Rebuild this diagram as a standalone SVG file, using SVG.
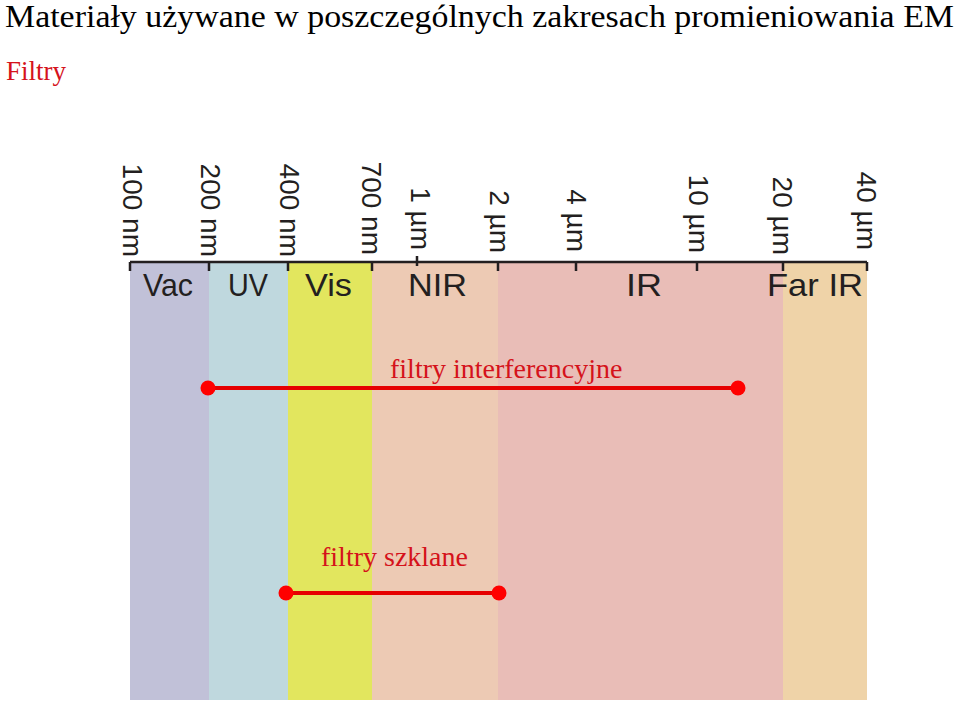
<svg xmlns="http://www.w3.org/2000/svg" width="960" height="703" viewBox="0 0 960 703">
<style>
.title{font-family:"Liberation Serif","Times New Roman",serif;font-size:31px;fill:#000}
.red{font-family:"Liberation Serif","Times New Roman",serif;fill:#d5121b}
.scale{font-family:"Liberation Sans",Arial,sans-serif;font-size:28px;fill:#231f20}
.band{font-family:"Liberation Sans",Arial,sans-serif;font-size:32px;fill:#231f20}
.tick{stroke:#231f20;stroke-width:2.5;fill:none}
.rng{stroke:#e60000;stroke-width:4}
.dot{fill:#ff0000}
</style>
<rect width="960" height="703" fill="#fff"/>
<text class="title" x="5" y="27" textLength="949" lengthAdjust="spacingAndGlyphs">Materiały używane w poszczególnych zakresach promieniowania EM</text>
<text class="red" x="6" y="80" font-size="27">Filtry</text>

<g id="bands">
<g id="band-vac"><rect x="130" y="262" width="79" height="438" fill="#c1c1d8"/><text class="band" x="143" y="296" textLength="50" lengthAdjust="spacingAndGlyphs">Vac</text></g>
<g id="band-uv"><rect x="209" y="262" width="79" height="438" fill="#bfd8de"/><text class="band" x="228" y="296" textLength="40" lengthAdjust="spacingAndGlyphs">UV</text></g>
<g id="band-vis"><rect x="288" y="262" width="84" height="438" fill="#e2e65e"/><text class="band" x="305" y="296" textLength="47" lengthAdjust="spacingAndGlyphs">Vis</text></g>
<g id="band-nir"><rect x="372" y="262" width="126" height="438" fill="#edcab4"/><text class="band" x="408" y="296" textLength="59" lengthAdjust="spacingAndGlyphs">NIR</text></g>
<g id="band-ir"><rect x="498" y="262" width="285" height="438" fill="#e9bdb7"/><text class="band" x="626" y="296" textLength="36" lengthAdjust="spacingAndGlyphs">IR</text></g>
<g id="band-farir"><rect x="783" y="262" width="84" height="438" fill="#efd3a8"/><text class="band" x="767" y="296" textLength="96" lengthAdjust="spacingAndGlyphs">Far IR</text></g>
</g>

<g id="axis">
<path class="tick" d="M130 262H867 M130 262V271 M209 262V271 M288 262V271 M372 262V271 M417 256V266 M498 262V271 M576 262V271 M697 262V271 M783 262V271 M867 262V271"/>
<text class="scale" transform="translate(123,257) rotate(90)" text-anchor="end">100 nm</text>
<text class="scale" transform="translate(201,257) rotate(90)" text-anchor="end">200 nm</text>
<text class="scale" transform="translate(280,257) rotate(90)" text-anchor="end">400 nm</text>
<text class="scale" transform="translate(362,255) rotate(90)" text-anchor="end">700 nm</text>
<text class="scale" transform="translate(411,250) rotate(90)" text-anchor="end">1 µm</text>
<text class="scale" transform="translate(490,253) rotate(90)" text-anchor="end">2 µm</text>
<text class="scale" transform="translate(567,252) rotate(90)" text-anchor="end">4 µm</text>
<text class="scale" transform="translate(689,253) rotate(90)" text-anchor="end">10 µm</text>
<text class="scale" transform="translate(773,255) rotate(90)" text-anchor="end">20 µm</text>
<text class="scale" transform="translate(857,250) rotate(90)" text-anchor="end">40 µm</text>
</g>

<g id="connectors">
<g id="filtry-interferencyjne">
<line class="rng" x1="208" y1="388" x2="738" y2="388"/>
<circle class="dot" cx="208" cy="388" r="7.5"/>
<circle class="dot" cx="738" cy="388" r="7.5"/>
<text class="red" x="390" y="378" font-size="28">filtry interferencyjne</text>
</g>
<g id="filtry-szklane">
<line class="rng" x1="286" y1="593" x2="499" y2="593"/>
<circle class="dot" cx="286" cy="593" r="7.5"/>
<circle class="dot" cx="499" cy="593" r="7.5"/>
<text class="red" x="321" y="566" font-size="28">filtry szklane</text>
</g>
</g>
</svg>
